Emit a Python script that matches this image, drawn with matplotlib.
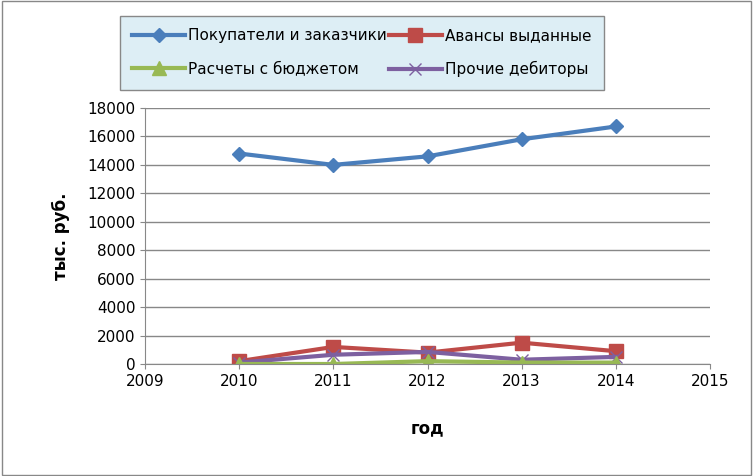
import matplotlib
matplotlib.use("Agg")
import matplotlib.pyplot as plt
from matplotlib.patches import Rectangle

years = [2010, 2011, 2012, 2013, 2014]
buyers = [14800, 14000, 14600, 15800, 16700]
advances = [200, 1200, 800, 1500, 900]
budget = [0, 0, 200, 100, 100]
other = [100, 650, 850, 300, 500]
labels = ["Покупатели и заказчики", "Авансы выданные", "Расчеты с бюджетом", "Прочие дебиторы"]

fig = plt.figure(figsize=(7.53, 4.76), dpi=100)
fig.patches.append(Rectangle((0.002, 0.002), 0.996, 0.996, transform=fig.transFigure,
                             fill=False, edgecolor="#888888", lw=1))
ax = fig.add_axes([145/753, 1-364/476, (710-145)/753, (364-108)/476])
l1, = ax.plot(years, buyers, color="#4a7ebb", marker="D", ms=7, lw=3)
l2, = ax.plot(years, advances, color="#be4b48", marker="s", ms=10, lw=3)
l4, = ax.plot(years, other, color="#7d60a0", marker="x", ms=9, lw=3, mew=1)
l3, = ax.plot(years, budget, color="#98b954", marker="^", ms=10, lw=3)
ax.set_xlim(2009, 2015)
ax.set_ylim(0, 18000)
ax.set_yticks(range(0, 18001, 2000))
ax.set_xticks(range(2009, 2016))
ax.grid(axis="y", color="#888888", lw=1)
ax.set_axisbelow(True)
for s in ["top", "right"]:
    ax.spines[s].set_visible(False)
for s in ["left", "bottom"]:
    ax.spines[s].set_color("#888888")
ax.tick_params(labelsize=11, color="#888888")
ax.set_xlabel("год", fontsize=12, fontweight="bold", labelpad=22)
ax.set_ylabel("тыс. руб.", fontsize=12, fontweight="bold", labelpad=12)
leg = fig.legend([l1, l3, l2, l4], [labels[0], labels[2], labels[1], labels[3]],
                 loc="upper left", ncol=2,
                 bbox_to_anchor=(112/753, 1-8/476), fontsize=11, frameon=True,
                 fancybox=False, edgecolor="#888888", facecolor="#ddeef5",
                 handlelength=3.5, columnspacing=0.1, handletextpad=0.2,
                 borderpad=0.8, labelspacing=1.2)
leg.get_frame().set_alpha(1)
fig.savefig("out.png", dpi=100)
